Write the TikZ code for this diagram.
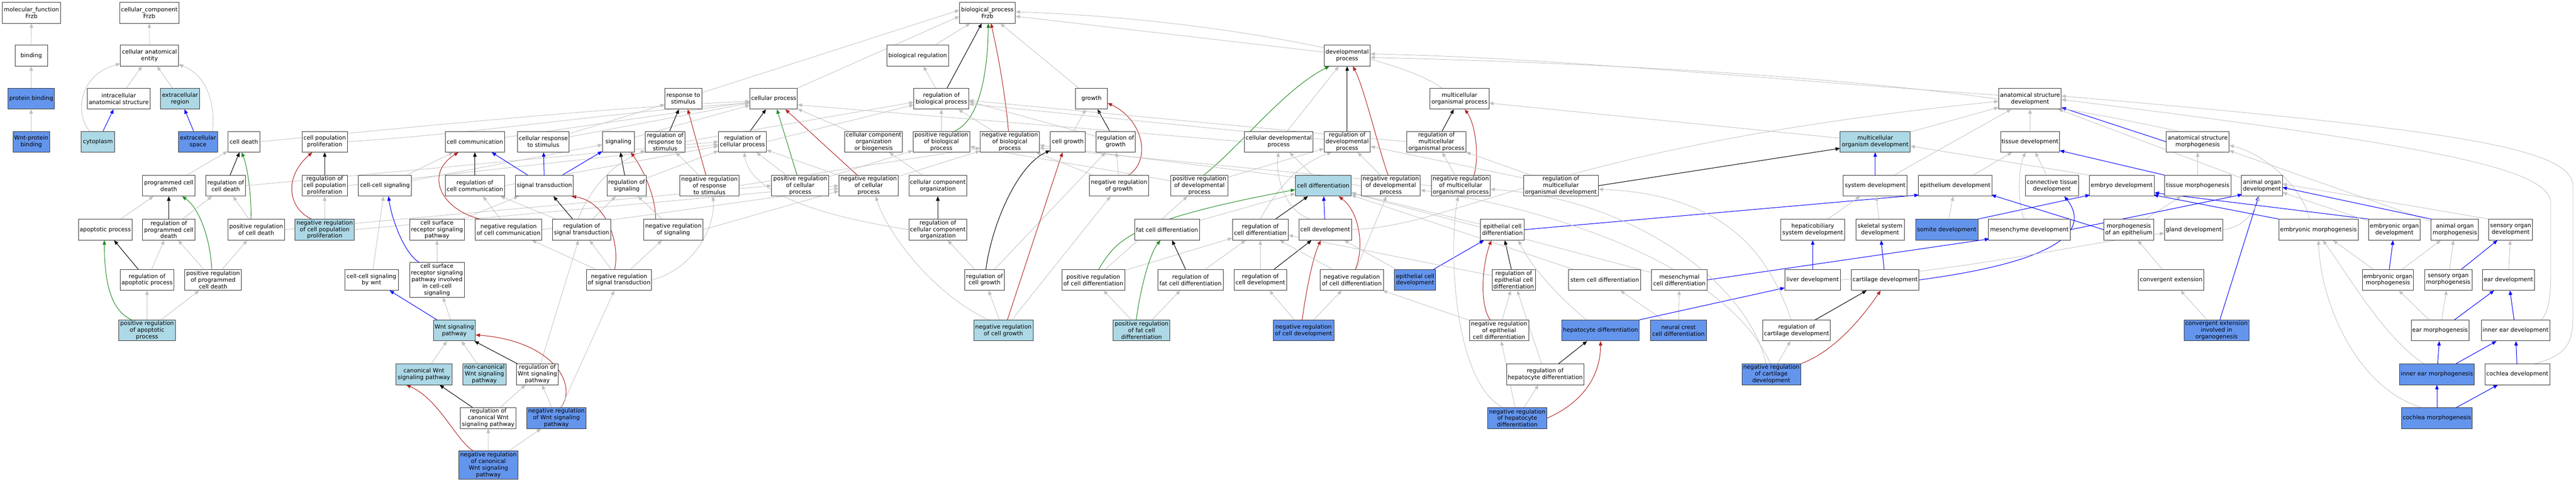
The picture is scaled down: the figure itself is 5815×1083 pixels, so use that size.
\documentclass[tikz,border=0pt]{standalone}
\usepackage{fontspec}
\newfontfamily\gofont{DejaVu Sans}
\usetikzlibrary{arrows.meta}
\pgfdeclarelayer{back}
\pgfdeclarelayer{bg}
\pgfsetlayers{back,bg,main}
\definecolor{lblue}{HTML}{ADD8E6}
\definecolor{cblue}{HTML}{6495ED}
\definecolor{egrey}{HTML}{C0C0C0}
\definecolor{egreen}{HTML}{228B22}
\definecolor{ered}{HTML}{B22222}
\definecolor{eblue}{HTML}{0000FF}
\def\yA{-28.8}\def\yB{-125.7}\def\yC{-222.8}\def\yD{-320}\def\yE{-419.3}
\def\yF{-518.6}\def\yG{-632}\def\yH{-746.3}\def\yI{-845.2}\def\yJ{-944.1}\def\yK{-1050}
\newcommand\gn[6]{\node[#1,minimum width={(#4)-(#3)}] (#2) at ({((#3)+(#4))/2},#5) {#6};}
\tikzset{
 box/.style={draw=black!80,line width=1pt,fill=white,inner sep=1pt,minimum height=47pt,
   align=center,text=black,font=\gofont\fontsize{13}{15}\selectfont},
 lb/.style={box,fill=lblue},
 db/.style={box,fill=cblue},
 eBase/.style={line width=1pt,-{Triangle[length=10pt,width=8pt]}},
 eGrey/.style={eBase,color=egrey},
 eBlack/.style={eBase,line width=1.2pt,color=black},
 eGreen/.style={eBase,line width=1.2pt,color=egreen},
 eRed/.style={eBase,line width=1.2pt,color=ered},
 eBlue/.style={eBase,line width=1.2pt,color=eblue},
}
\begin{document}
\begin{tikzpicture}[x=1pt,y=1pt]
\useasboundingbox (0,0) rectangle (5815,-1083);
\begin{pgfonlayer}{back}
\fill[white] (0,0) rectangle (5815,-1083);
\end{pgfonlayer}
% ---------- nodes ----------
\gn{box}{mf}{5}{137}{\yA}{molecular\_function\\Frzb}
\gn{box}{bind}{34}{107}{\yB}{binding}
\gn{db}{pb}{18}{123}{\yC}{protein binding}
\gn{db}{wpb}{29}{112}{\yD}{Wnt-protein\\binding}
\gn{box}{cc}{270}{404}{\yA}{cellular\_component\\Frzb}
\gn{box}{cae}{272}{403}{\yB}{cellular anatomical\\entity}
\gn{box}{ias}{197}{339}{\yC}{intracellular\\anatomical structure}
\gn{lb}{er}{362}{451}{\yC}{extracellular\\region}
\gn{lb}{cyto}{183}{259}{\yD}{cytoplasm}
\gn{db}{es}{403}{491}{\yD}{extracellular\\space}
\gn{box}{pcd}{322}{440}{\yE}{programmed cell\\death}
\gn{box}{rcd}{465}{554}{\yE}{regulation of\\cell death}
\gn{box}{ap}{177}{298}{\yF}{apoptotic process}
\gn{box}{ropcd}{322}{440}{\yF}{regulation of\\programmed cell\\death}
\gn{box}{rap}{272}{392}{\yG}{regulation of\\apoptotic process}
\gn{box}{prpcd}{417}{545}{\yG}{positive regulation\\of programmed\\cell death}
\gn{lb}{prap}{268}{396}{\yH}{positive regulation\\of apoptotic\\process}
\gn{box}{cd}{514}{587}{\yD}{cell death}
\gn{box}{prcd}{514}{643}{\yF}{positive regulation\\of cell death}
\gn{box}{cpp}{682}{784}{\yD}{cell population\\proliferation}
\gn{box}{rcpp}{682}{784}{\yE}{regulation of\\cell population\\proliferation}
\gn{lb}{nrcpp}{666}{800}{\yF}{negative regulation\\of cell population\\proliferation}
\gn{box}{ccs}{809}{929}{\yE}{cell-cell signaling}
\gn{box}{ccsw}{778}{899}{\yG}{cell-cell signaling\\by wnt}
\gn{box}{csrsp}{925}{1048}{\yF}{cell surface\\receptor signaling\\pathway}
\gn{box,minimum height=78pt}{csrspi}{925}{1048}{\yG}{cell surface\\receptor signaling\\pathway involved\\in cell-cell\\signaling}
\gn{lb}{cwsp}{894}{1020}{\yI}{canonical Wnt\\signaling pathway}
\gn{box}{cc2}{1005}{1139}{\yD}{cell communication}
\gn{box}{crs}{1168}{1285}{\yD}{cellular response\\to stimulus}
\gn{box}{sig}{1360}{1432}{\yD}{signaling}
\gn{box}{rocc}{1005}{1139}{\yE}{regulation of\\cell communication}
\gn{box}{st}{1164}{1294}{\yE}{signal transduction}
\gn{box}{rsig}{1370}{1459}{\yE}{regulation of\\signaling}
\gn{box}{nrocc}{1073}{1223}{\yF}{negative regulation\\of cell communication}
\gn{box}{rost}{1247}{1379}{\yF}{regulation of\\signal transduction}
\gn{box}{nrost}{1324}{1471}{\yG}{negative regulation\\of signal transduction}
\gn{lb}{wsp}{978}{1073}{\yH}{Wnt signaling\\pathway}
\gn{lb}{ncwsp}{1045}{1142}{\yI}{non-canonical\\Wnt signaling\\pathway}
\gn{box}{rwsp}{1166}{1260}{\yI}{regulation of\\Wnt signaling\\pathway}
\gn{box}{rcwsp}{1039}{1165}{\yJ}{regulation of\\canonical Wnt\\signaling pathway}
\gn{db}{nrwsp}{1189}{1323}{\yJ}{negative regulation\\of Wnt signaling\\pathway}
\gn{db,minimum height=64pt}{nrcwsp}{1036}{1169}{\yK}{negative regulation\\of canonical\\Wnt signaling\\pathway}
\gn{box}{rs}{1501}{1584}{\yC}{response to\\stimulus}
\gn{box}{cp}{1693}{1800}{\yC}{cellular process}
\gn{box}{rrs}{1457}{1546}{\yD}{regulation of\\response to\\stimulus}
\gn{box}{rcp}{1622}{1730}{\yD}{regulation of\\cellular process}
\gn{box}{nrrs}{1535}{1668}{\yE}{negative regulation\\of response\\to stimulus}
\gn{box}{prcp}{1742}{1871}{\yE}{positive regulation\\of cellular\\process}
\gn{box}{nrsig}{1453}{1587}{\yF}{negative regulation\\of signaling}
\gn{box}{ccoob}{1907}{2037}{\yD}{cellular component\\organization\\or biogenesis}
\gn{box}{nrcp}{1894}{2028}{\yE}{negative regulation\\of cellular\\process}
\gn{box}{bp}{2166}{2292}{\yA}{biological\_process\\Frzb}
\gn{box}{breg}{2002}{2141}{\yB}{biological regulation}
\gn{box}{rbp}{2063}{2187}{\yC}{regulation of\\biological process}
\gn{box}{growth}{2428}{2500}{\yC}{growth}
\gn{box}{prbp}{2061}{2189}{\yD}{positive regulation\\of biological\\process}
\gn{box}{nrbp}{2213}{2346}{\yD}{negative regulation\\of biological\\process}
\gn{box}{cg}{2371}{2450}{\yD}{cell growth}
\gn{box}{cco}{2052}{2182}{\yE}{cellular component\\organization}
\gn{box}{rcco}{2052}{2182}{\yF}{regulation of\\cellular component\\organization}
\gn{box}{rcg}{2178}{2267}{\yG}{regulation of\\cell growth}
\gn{lb}{nrcg}{2198}{2332}{\yH}{negative regulation\\of cell growth}
\gn{box}{prcdiff}{2397}{2539}{\yG}{positive regulation\\of cell differentiation}
\gn{box}{nrg}{2459}{2593}{\yE}{negative regulation\\of growth}
\gn{box}{rg}{2474}{2563}{\yD}{regulation of\\growth}
\gn{box}{dp}{2989}{3093}{\yB}{developmental\\process}
\gn{box}{cdp}{2809}{2964}{\yD}{cellular developmental\\process}
\gn{box}{rdp}{2989}{3093}{\yD}{regulation of\\developmental\\process}
\gn{box}{prdp}{2643}{2772}{\yE}{positive regulation\\of developmental\\process}
\gn{lb}{cdiff}{2924}{3050}{\yE}{cell differentiation}
\gn{box}{fcd}{2561}{2708}{\yF}{fat cell differentiation}
\gn{box}{rcdiff}{2782}{2908}{\yF}{regulation of\\cell differentiation}
\gn{box}{cdev}{2932}{3051}{\yF}{cell development}
\gn{box}{rfcd}{2614}{2761}{\yG}{regulation of\\fat cell differentiation}
\gn{box}{rcdev}{2786}{2904}{\yG}{regulation of\\cell development}
\gn{box}{nrcdiff}{2980}{3123}{\yG}{negative regulation\\of cell differentiation}
\gn{lb}{prfcd}{2513}{2641}{\yH}{positive regulation\\of fat cell\\differentiation}
\gn{db}{nrcdev}{2874}{3011}{\yH}{negative regulation\\of cell development}
\gn{box}{mop}{3228}{3361}{\yC}{multicellular\\organismal process}
\gn{box}{rmop}{3176}{3309}{\yD}{regulation of\\multicellular\\organismal process}
\gn{box}{nrdp}{3073}{3206}{\yE}{negative regulation\\of developmental\\process}
\gn{box}{nrmop}{3231}{3364}{\yE}{negative regulation\\of multicellular\\organismal process}
\gn{box}{rmod}{3439}{3608}{\yE}{regulation of\\multicellular\\organismal development}
\gn{box}{ecd}{3342}{3441}{\yF}{epithelial cell\\differentiation}
\gn{db}{ecdev}{3148}{3241}{\yG}{epithelial cell\\development}
\gn{box}{recd}{3368}{3466}{\yG}{regulation of\\epithelial cell\\differentiation}
\gn{box}{scd}{3541}{3704}{\yG}{stem cell differentiation}
\gn{box}{nrecd}{3317}{3451}{\yH}{negative regulation\\of epithelial\\cell differentiation}
\gn{db}{hd}{3526}{3700}{\yH}{hepatocyte differentiation}
\gn{box}{rhd}{3401}{3575}{\yI}{regulation of\\hepatocyte differentiation}
\gn{db}{nrhd}{3358}{3492}{\yJ}{negative regulation\\of hepatocyte\\differentiation}
\gn{box}{mcd}{3728}{3854}{\yG}{mesenchymal\\cell differentiation}
\gn{db}{nccd}{3726}{3852}{\yH}{neural crest\\cell differentiation}
\gn{box}{hsd}{4020}{4164}{\yF}{hepaticobiliary\\system development}
\gn{box}{ld}{4029}{4155}{\yG}{liver development}
\gn{box}{rcartd}{3979}{4132}{\yH}{regulation of\\cartilage development}
\gn{db}{nrcartd}{3932}{4065}{\yI}{negative regulation\\of cartilage\\development}
\gn{lb}{mod}{4154}{4312}{\yD}{multicellular\\organism development}
\gn{box}{asd}{4512}{4653}{\yC}{anatomical structure\\development}
\gn{box}{td}{4516}{4649}{\yD}{tissue development}
\gn{box}{sd}{4161}{4305}{\yE}{system development}
\gn{box}{epd}{4330}{4497}{\yE}{epithelium development}
\gn{box}{ssd}{4189}{4299}{\yF}{skeletal system\\development}
\gn{db}{somd}{4324}{4465}{\yF}{somite development}
\gn{box}{mesd}{4489}{4673}{\yF}{mesenchyme development}
\gn{box}{cartd}{4179}{4332}{\yG}{cartilage development}
\gn{box}{ctd}{4572}{4692}{\yE}{connective tissue\\development}
\gn{box}{ed}{4716}{4863}{\yE}{embryo development}
\gn{box}{tm}{4886}{5036}{\yE}{tissue morphogenesis}
\gn{box}{asm}{4890}{5032}{\yD}{anatomical structure\\morphogenesis}
\gn{box}{moae}{4749}{4862}{\yF}{morphogenesis\\of an epithelium}
\gn{box}{gd}{4886}{5018}{\yF}{gland development}
\gn{box}{ce}{4827}{4975}{\yG}{convergent extension}
\gn{db}{ceio}{4930}{5077}{\yH}{convergent extension\\involved in\\organogenesis}
\gn{box}{aod}{5060}{5152}{\yE}{animal organ\\development}
\gn{box}{em}{5144}{5323}{\yF}{embryonic morphogenesis}
\gn{box}{eod}{5347}{5463}{\yF}{embryonic organ\\development}
\gn{box}{eom}{5333}{5448}{\yG}{embryonic organ\\morphogenesis}
\gn{box}{aom}{5488}{5595}{\yF}{animal organ\\morphogenesis}
\gn{box}{sod}{5618}{5717}{\yF}{sensory organ\\development}
\gn{box}{som}{5473}{5580}{\yG}{sensory organ\\morphogenesis}
\gn{box}{eard}{5604}{5721}{\yG}{ear development}
\gn{box}{earm}{5443}{5573}{\yH}{ear morphogenesis}
\gn{box}{ied}{5601}{5756}{\yH}{inner ear development}
\gn{db}{iem}{5417}{5585}{\yI}{inner ear morphogenesis}
\gn{box}{cochd}{5609}{5756}{\yI}{cochlea development}
\gn{db}{cochm}{5421}{5581}{\yJ}{cochlea morphogenesis}
% ---------- edges ----------
\begin{pgfonlayer}{bg}
% MF / CC
\draw[eGrey] (bind) -- (mf);
\draw[eGrey] (pb) -- (bind);
\draw[eGrey] (wpb) -- (pb);
\draw[eGrey] (cae) -- (cc);
\draw[eGrey] (ias) -- (cae);
\draw[eGrey] (er) -- (cae);
\draw[eBlue] (cyto) -- (ias);
\draw[eGrey] ([xshift=20pt]cyto.north west) .. controls (170,-260) and (175,-170) .. ([yshift=6pt]cae.south west);
\draw[eBlue] (es) -- (er);
\draw[eGrey] ([xshift=-12pt]es.north east) .. controls (485,-260) and (480,-175) .. ([yshift=4pt]cae.south east);
% death
\draw[eGrey] (pcd) -- (cd);
\draw[eGrey] (ap) -- (pcd);
\draw[eBlack] (ropcd) -- (pcd);
\draw[eBlack] (rap) -- (ap);
\draw[eGrey] (rap) -- (ropcd);
\draw[eGreen] ([xshift=-3pt]prpcd.north) .. controls (475,-540) and (450,-470) .. ([xshift=30pt]pcd.south);
\draw[eGrey] (prpcd) -- (ropcd);
\draw[eGreen] ([xshift=-35pt]prap.north) .. controls (250,-700) and (236,-640) .. ([xshift=-2pt]ap.south);
\draw[eGrey] (prap) -- (rap);
\draw[eGrey] (prap) -- (prpcd);
\draw[eGrey] (ropcd) -- (rcd);
\draw[eBlack] (rcd) -- (cd);
\draw[eGreen] ([xshift=-12pt]prcd.north) .. controls (568,-450) and (560,-380) .. ([xshift=-5pt]cd.south);
\draw[eGrey] (prcd) -- (rcd);
\draw[eGrey] (prpcd) -- (prcd);
\draw[eGrey] (rcd.east) -- (rcp.west);
\draw[eGrey] (cd.east) .. controls (900,-290) and (1400,-240) .. ([yshift=-6pt]cp.west);
\draw[eGrey] (cpp.east) .. controls (1100,-300) and (1400,-250) .. ([yshift=-10pt]cp.west);
\draw[eGrey] (prcd.east) -- (prcp.west);
\draw[eGrey] (rcpp.east) -- ([yshift=-6pt]rcp.west);
\draw[eGrey] (nrcpp.east) -- (nrcp.west);
% proliferation
\draw[eBlack] (rcpp) -- (cpp);
\draw[eGrey] (nrcpp) -- (rcpp);
\draw[eRed] ([xshift=-30pt]nrcpp.north) .. controls (650,-470) and (640,-400) .. ([xshift=-28pt]cpp.south);
% signaling
\draw[eGrey] (ccs) -- (cc2);
\draw[eGrey] (ccs) -- (sig);
\draw[eGrey] (ccsw) -- (ccs);
\draw[eBlue] ([xshift=-40pt]csrspi.north) .. controls (915,-575) and (885,-500) .. ([xshift=8pt]ccs.south);
\draw[eGrey] (csrspi) -- (csrsp);
\draw[eGrey] (csrsp) -- (st);
\draw[eGrey] (wsp) -- (csrspi);
\draw[eBlue] ([xshift=9pt]wsp.north west) -- ([xshift=41pt]ccsw.south);
\draw[eGrey] (cc2) -- (cp);
\draw[eBlack] (rocc) -- (cc2);
\draw[eBlue] (st) -- (cc2);
\draw[eBlue] (st) -- (crs);
\draw[eBlue] (st) -- (sig);
\draw[eRed] ([xshift=-65pt]nrocc.north) .. controls (990,-470) and (960,-390) .. ([xshift=-37pt]cc2.south);
\draw[eGrey] (nrocc) -- (rocc);
\draw[eBlack] (rost) -- (st);
\draw[eGrey] (rost) -- (rocc);
\draw[eGrey] (rost) -- (rsig);
\draw[eGrey] ([xshift=-8pt]rost.north) .. controls (1330,-430) and (1380,-370) .. ([yshift=4pt]rrs.south west);
\draw[eRed] ([xshift=-10pt]nrost.north) .. controls (1400,-550) and (1370,-455) .. ([xshift=-4pt]st.south east);
\draw[eGrey] (nrost) -- (rost);
\draw[eGrey] (nrost) -- (nrocc);
\draw[eGrey] (nrost) -- (nrsig);
\draw[eGrey] (nrost.east) .. controls (1560,-610) and (1615,-520) .. ([xshift=8pt]nrrs.south);
\draw[eBlack] (rsig) -- (sig);
\draw[eRed] ([xshift=-40pt]nrsig.north) .. controls (1480,-440) and (1450,-380) .. ([xshift=28pt]sig.south);
\draw[eGrey] (nrsig) -- (rsig);
\draw[eGrey] (cwsp) -- (wsp);
\draw[eGrey] (ncwsp) -- (wsp);
\draw[eBlack] (rwsp) -- (wsp);
\draw[eGrey] (rwsp) -- (rost);
\draw[eRed] ([xshift=10pt]nrwsp.north) .. controls (1305,-870) and (1250,-770) .. ([yshift=-10pt]wsp.east);
\draw[eGrey] (nrwsp) -- (rwsp);
\draw[eGrey] (nrwsp) -- (nrost);
\draw[eBlack] (rcwsp) -- (cwsp);
\draw[eGrey] (rcwsp) -- (rwsp);
\draw[eRed] ([xshift=-35pt]nrcwsp.north) .. controls (1030,-995) and (990,-900) .. ([xshift=-40pt]cwsp.south);
\draw[eGrey] (nrcwsp) -- (rcwsp);
\draw[eGrey] (nrcwsp) -- (nrwsp);
\draw[eGrey] (crs) -- (rs);
\draw[eGrey] (crs) -- (cp);
\draw[eGrey] (sig) -- (cp);
\draw[eGrey] (rocc.east) -- ([yshift=-10pt]rcp.west);
\draw[eGrey] (rsig) -- (rcp);
\draw[eGrey] (nrocc.east) -- ([yshift=-6pt]nrcp.west);
\draw[eGrey] (nrsig.east) -- ([yshift=-12pt]nrcp.west);
% response / cellular process
\draw[eGrey] (rs) -- ([yshift=6pt]bp.west);
\draw[eGrey] (cp) -- ([yshift=-8pt]bp.west);
\draw[eBlack] (rrs) -- (rs);
\draw[eRed] ([xshift=-8pt]nrrs.north) -- ([xshift=10pt]rs.south);
\draw[eGrey] (nrrs) -- (rrs);
\draw[eBlack] (rcp) -- (cp);
\draw[eGreen] (prcp) -- (cp);
\draw[eRed] (nrcp) -- (cp);
\draw[eGrey] (prcp) -- (rcp);
\draw[eGrey] (nrcp) -- (rcp);
\draw[eGrey] (rrs.east) -- ([yshift=-8pt]rbp.west);
\draw[eGrey] (rcp.east) -- ([yshift=-14pt]rbp.west);
\draw[eGrey] (nrrs.east) -- ([yshift=-14pt]nrbp.west);
\draw[eGrey] (prcp) -- (prbp);
\draw[eGrey] (nrcp) -- (nrbp);
\draw[eGrey] (ccoob) -- (cp);
% biological process
\draw[eGrey] (breg) -- (bp);
\draw[eGrey] (rbp) -- (breg);
\draw[eBlack] (rbp) -- (bp);
\draw[eGreen] ([xshift=30pt]prbp.north) .. controls (2215,-270) and (2230,-150) .. ([xshift=2pt]bp.south);
\draw[eRed] ([xshift=-3pt]nrbp.north) .. controls (2268,-200) and (2250,-110) .. ([xshift=8pt]bp.south);
\draw[eGrey] (prbp) -- (rbp);
\draw[eGrey] (nrbp) -- (rbp);
\draw[eGrey] (growth) -- (bp);
\draw[eGrey] ([yshift=8pt]dp.west) -- ([yshift=-8pt]bp.east);
\draw[eGrey] ([xshift=-40pt]mop.north) .. controls (3150,-120) and (2700,-40) .. ([yshift=2pt]bp.east);
\draw[eGrey] (cg) -- (growth);
\draw[eBlack] (rg) -- (growth);
\draw[eRed] ([xshift=22pt]nrg.north) .. controls (2600,-360) and (2580,-270) .. ([yshift=-10pt]growth.east);
\draw[eGrey] (nrg) -- (rg);
\draw[eGrey] (rg) -- ([yshift=-6pt]rbp.east);
\draw[eGrey] (nrg) -- (nrbp);
\draw[eGrey] (cco) -- (ccoob);
\draw[eBlack] (rcco) -- (cco);
\draw[eGrey] (rcco.west) .. controls (1800,-480) and (1690,-420) .. ([xshift=4pt]rcp.south);
\draw[eBlack] ([xshift=3pt]rcg.north) .. controls (2240,-500) and (2300,-370) .. ([yshift=4pt]cg.south west);
\draw[eGrey] (rcg) -- (rcco);
\draw[eGrey] (rcg) -- (rg);
\draw[eRed] ([xshift=9pt]nrcg.north) -- ([xshift=-12pt]cg.south);
\draw[eGrey] (nrcg) -- (rcg);
\draw[eGrey] ([xshift=-34pt]nrcg.north) .. controls (2100,-660) and (2000,-520) .. ([xshift=16pt]nrcp.south);
\draw[eGrey] (nrcg) -- (nrg);
% development
\draw[eGrey] (cdp) -- (dp);
\draw[eGrey] (cdp.west) -- ([yshift=-14pt]cp.east);
\draw[eBlack] (rdp) -- (dp);
\draw[eGrey] (rdp) -- ([yshift=-12pt]rbp.east);
\draw[eGreen] ([xshift=10pt]prdp.north) .. controls (2800,-330) and (2900,-200) .. ([xshift=-40pt]dp.south);
\draw[eGrey] (prdp) -- (rdp);
\draw[eGrey] (prdp) -- (prbp);
\draw[eGrey] (cdiff) -- (cdp);
\draw[eGrey] (fcd) -- (cdiff);
\draw[eBlack] (rcdiff) -- (cdiff);
\draw[eGrey] (rcdiff.north) .. controls (2880,-430) and (2930,-370) .. ([xshift=-35pt]rdp.south);
\draw[eGreen] ([xshift=12pt]prcdiff.north) .. controls (2520,-545) and (2540,-500) .. ([yshift=-9pt]cdiff.west);
\draw[eGrey] (prcdiff) -- (rcdiff);
\draw[eGrey] (prcdiff) -- (prdp);
\draw[eBlue] (cdev) -- (cdiff);
\draw[eGrey] ([xshift=-35pt]cdev.north) .. controls (2890,-470) and (2880,-380) .. ([xshift=0pt]cdp.south);
\draw[eBlack] (rfcd) -- (fcd);
\draw[eGrey] (rfcd) -- (rcdiff);
\draw[eGreen] ([xshift=-12pt]prfcd.north) .. controls (2570,-680) and (2590,-580) .. ([xshift=-15pt]fcd.south);
\draw[eGrey] (prfcd) -- (rfcd);
\draw[eGrey] (prfcd) -- (prcdiff);
\draw[eBlack] (rcdev) -- (cdev);
\draw[eGrey] (rcdev) -- (rcdiff);
\draw[eRed] ([xshift=-3pt]nrcdev.north) .. controls (2945,-680) and (2960,-590) .. ([xshift=-10pt]cdev.south);
\draw[eGrey] (nrcdev) -- (rcdev);
\draw[eGrey] (nrcdev) -- (nrcdiff);
\draw[eRed] ([xshift=8pt]nrcdiff.north) .. controls (3080,-560) and (3070,-480) .. ([xshift=35pt]cdiff.south);
\draw[eGrey] (nrcdiff) -- (rcdiff);
\draw[eGrey] (nrcdiff) -- (nrdp);
\draw[eBlack] (rmop) -- (mop);
\draw[eGrey] (rmop.west) -- ([yshift=-4pt]rbp.east);
\draw[eRed] ([xshift=-6pt]nrdp.north) .. controls (3110,-330) and (3080,-200) .. ([xshift=13pt]dp.south);
\draw[eGrey] (nrdp) -- (rdp);
\draw[eGrey] (nrdp.west) -- ([yshift=-8pt]nrbp.east);
\draw[eRed] ([xshift=30pt]nrmop.north) .. controls (3340,-350) and (3330,-280) .. ([xshift=12pt]mop.south);
\draw[eGrey] (nrmop) -- (rmop);
\draw[eGrey] (nrmop.west) -- ([yshift=-14pt]nrbp.east);
\draw[eGrey] (rmod) -- (rmop);
\draw[eGrey] (rmod) -- (rdp);
\draw[eBlack] (rmod.east) -- ([yshift=-15pt]mod.west);
\draw[eGrey] (ecd) -- (cdiff);
\draw[eBlue] (ecd.east) -- ([xshift=2pt,yshift=3pt]epd.south west);
\draw[eBlue] (ecdev) -- (ecd);
\draw[eGrey] (ecdev) -- (cdev);
\draw[eBlack] (recd) -- (ecd);
\draw[eGrey] (recd) -- (rcdiff);
\draw[eRed] ([xshift=-20pt]nrecd.north) .. controls (3340,-690) and (3345,-600) .. ([xshift=-25pt]ecd.south);
\draw[eGrey] (nrecd) -- (recd);
\draw[eGrey] (nrecd) -- (nrcdiff);
\draw[eGrey] (scd) -- (cdiff);
\draw[eGrey] ([xshift=-32pt]hd.north) .. controls (3530,-680) and (3460,-610) .. ([xshift=36pt]ecd.south);
\draw[eBlack] (rhd) -- (hd);
\draw[eGrey] (rhd) -- (recd);
\draw[eRed] (nrhd.east) .. controls (3560,-915) and (3613,-860) .. (hd.south);
\draw[eGrey] (nrhd) -- (rhd);
\draw[eGrey] (nrhd) -- (nrecd);
\draw[eGrey] ([xshift=-33pt]nrhd.north) .. controls (3280,-860) and (3270,-560) .. ([xshift=-6pt]nrmop.south);
\draw[eGrey] (mcd) -- (cdiff);
\draw[eBlue] (mcd.east) -- ([xshift=2pt,yshift=3pt]mesd.south west);
\draw[eGrey] (nccd) -- (mcd);
\draw[eGrey] (nccd) -- (scd);
\draw[eBlue] (hd.north east) -- ([yshift=6pt]ld.south west);
\draw[eBlue] (ld) -- (hsd);
\draw[eBlack] (rcartd) -- (cartd);
\draw[eGrey] ([xshift=-12pt]rcartd.north) .. controls (4000,-600) and (3920,-440) .. ([yshift=-8pt]rmod.east);
\draw[eRed] (nrcartd.north east) .. controls (4150,-790) and (4215,-700) .. ([xshift=-10pt]cartd.south);
\draw[eGrey] (nrcartd) -- (rcartd);
\draw[eGrey] ([xshift=-12pt]nrcartd.north) .. controls (3950,-650) and (3700,-450) .. ([yshift=-8pt]nrmop.east);
\draw[eGrey] ([xshift=-2pt]nrcartd.north) .. controls (3900,-600) and (3500,-470) .. ([yshift=-10pt]nrdp.east);
\draw[eGrey] (hsd) -- (sd);
\draw[eGrey] ([yshift=8pt]mod.west) -- ([yshift=-10pt]mop.east);
\draw[eGrey] (mod) -- (asd);
\draw[eBlue] (sd) -- (mod);
\draw[eGrey] (sd) -- (asd);
\draw[eGrey] (epd) -- (td);
\draw[eGrey] (ssd) -- (sd);
\draw[eGrey] (somd) -- (epd);
\draw[eBlue] (somd.north east) -- ([xshift=2pt,yshift=3pt]ed.south west);
\draw[eGrey] ([xshift=-11pt]mesd.north) .. controls (4555,-470) and (4555,-380) .. ([xshift=-10pt]td.south);
\draw[eBlue] (cartd) -- (ssd);
\draw[eBlue] (cartd.east) .. controls (4650,-590) and (4720,-520) .. ([xshift=28pt]ctd.south);
\draw[eGrey] (td) -- (asd);
\draw[eGrey] (ctd) -- (td);
\draw[eBlue] (asm.west) -- ([yshift=4pt]asd.south east);
\draw[eGrey] ([xshift=-45pt]asm.north) .. controls (4700,-250) and (4300,-160) .. ([yshift=-4pt]dp.east);
\draw[eGrey] ([yshift=8pt]asd.west) .. controls (4000,-180) and (3500,-130) .. ([yshift=4pt]dp.east);
\draw[eGrey] (cdev.east) .. controls (3300,-510) and (3500,-330) .. ([yshift=-6pt]asd.west);
\draw[eGrey] (ed.north west) -- ([yshift=-10pt]mod.east);
\draw[eGrey] (tm) -- (asm);
\draw[eBlue] (tm.north west) -- ([yshift=4pt]td.south east);
\draw[eGrey] (moae) -- (tm);
\draw[eBlue] (moae.west) -- ([xshift=-2pt,yshift=3pt]epd.south east);
\draw[eGrey] (ce) -- (moae);
\draw[eGrey] (ceio) -- (ce);
\draw[eBlue] (ceio) -- (aod);
\draw[eGrey] (ld.east) .. controls (4500,-600) and (4700,-550) .. ([yshift=-8pt]gd.west);
\draw[eGrey] (gd.east) .. controls (5060,-515) and (5090,-480) .. ([xshift=-6pt]aod.south);
\draw[eGrey] (aod) -- (asd);
\draw[eBlue] (mesd.east) -- ([xshift=2pt,yshift=4pt]aod.south west);
\draw[eGrey] ([xshift=-20pt]em.north) .. controls (5200,-430) and (5120,-350) .. ([yshift=-8pt]asm.east);
\draw[eBlue] (em.north west) -- ([xshift=-2pt,yshift=3pt]ed.south east);
\draw[eBlue] (eod.north west) -- ([yshift=8pt]ed.south east);
\draw[eGrey] (eod) -- (aod);
\draw[eGrey] (eom) -- (em);
\draw[eBlue] (eom) -- (eod);
\draw[eGrey] (eom) -- (aom);
\draw[eGrey] (aom) -- ([yshift=4pt]asm.south east);
\draw[eBlue] (aom.north west) -- ([yshift=-4pt]aod.east);
\draw[eGrey] (sod.north west) -- ([yshift=4pt]aod.east);
\draw[eGrey] (som) -- (aom);
\draw[eBlue] (som) -- (sod);
\draw[eGrey] (eard) -- (sod);
\draw[eGrey] (earm) -- (eom);
\draw[eGrey] (earm) -- (som);
\draw[eBlue] (earm) -- (eard);
\draw[eBlue] (ied) -- (eard);
\draw[eGrey] ([xshift=-20pt]ied.north east) .. controls (5758,-700) and (5758,-650) .. (5758,-600) -- (5758,-460) .. controls (5758,-380) and (5500,-330) .. ([yshift=-2pt]asd.east);
\draw[eBlue] (iem) -- (earm);
\draw[eBlue] (iem) -- (ied);
\draw[eGrey] ([xshift=-30pt]iem.north) .. controls (5380,-760) and (5300,-620) .. ([xshift=10pt]em.south);
\draw[eBlue] (cochd) -- (ied);
\draw[eGrey] ([xshift=-35pt]cochd.north east) .. controls (5808,-800) and (5808,-760) .. (5808,-700) -- (5808,-420) .. controls (5808,-330) and (5500,-290) .. ([yshift=6pt]asd.east);
\draw[eBlue] (cochm) -- (iem);
\draw[eBlue] (cochm) -- (cochd);
\draw[eGrey] ([xshift=-35pt]cochm.north) .. controls (5330,-880) and (5240,-700) .. ([xshift=0pt]em.south);
\end{pgfonlayer}
\end{tikzpicture}
\end{document}
